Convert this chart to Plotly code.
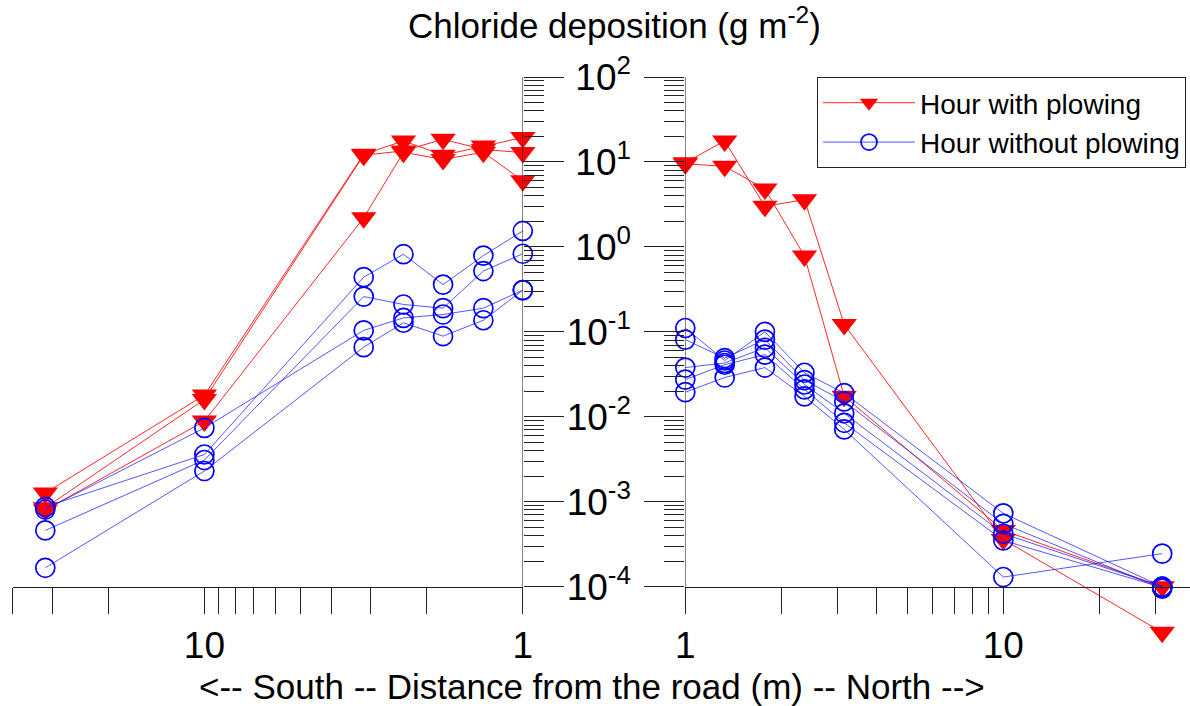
import math
import plotly.graph_objects as go

# ---------------- data ----------------
distance_m = [1, 1.33, 1.78, 2.37, 3.16, 10, 31.6]

# South side (left panel), hours with plowing
south_plow_a = [19.4, 15.4, 12.0, 17.7, 12.3, 0.018, 0.00127]
south_plow_b = [12.9, 14.0, 18.5, 13.5, 12.0, 0.016, 0.00085]
south_plow_c = [6.0, 13.0, 10.7, 13.0, 2.2, 0.0089, 0.00080]

# South side, hours without plowing
south_noplow_a = [1.54, 0.79, 0.36, 0.82, 0.44, 0.0036, 0.00087]
south_noplow_b = [0.83, 0.52, 0.19, 0.21, 0.26, 0.0031, 0.00046]
south_noplow_c = [0.31, 0.19, 0.16, 0.146, 0.104, 0.0074, 0.00081]
south_noplow_d = [0.31, 0.137, 0.089, 0.128, 0.066, 0.0023, 0.000167]

# North side (right panel), hours with plowing
north_plow_a = [9.8, 17.7, 3.0, 3.6, 0.122, 0.00036, 0.000029]
north_plow_b = [9.5, 8.9, 4.8, 0.78, 0.0174, 0.00046, 0.000100]

# North side, hours without plowing
north_noplow_a = [0.111, 0.046, 0.100, 0.033, 0.019, 0.00073, 0.000100]
north_noplow_b = [0.081, 0.049, 0.081, 0.027, 0.0152, 0.00055, 0.000095]
north_noplow_c = [0.038, 0.043, 0.065, 0.024, 0.011, 0.00042, 0.000100]
north_noplow_d = [0.0274, 0.041, 0.054, 0.021, 0.0085, 0.00035, 0.000098]
north_noplow_e = [0.0195, 0.029, 0.038, 0.0174, 0.0071, 0.00013, 0.000245]

south_plow = [south_plow_a, south_plow_b, south_plow_c]
south_noplow = [south_noplow_a, south_noplow_b, south_noplow_c, south_noplow_d]
north_plow = [north_plow_a, north_plow_b]
north_noplow = [north_noplow_a, north_noplow_b, north_noplow_c, north_noplow_d, north_noplow_e]

# ticks
x_major_vals = [1, 10]
x_major_text = ["1", "10"]
x_minor_vals = [2, 3, 4, 5, 6, 7, 8, 9, 20, 30, 40]
y_tickvals = [1e-4, 1e-3, 1e-2, 1e-1, 1, 10, 100]
y_ticktext = ["10<sup>-4</sup>", "10<sup>-3</sup>", "10<sup>-2</sup>", "10<sup>-1</sup>",
              "10<sup>0</sup>", "10<sup>1</sup>", "10<sup>2</sup>"]
y_minorvals = [m * 10 ** e for e in range(-4, 2) for m in range(2, 10)]
y_min, y_max = 1e-4, 100

# ---------------- styles ----------------
W, H = 1190, 706
FONT = "Arial, Liberation Sans, sans-serif"
RED = "#ff0000"
BLUE = "#0000ff"
AX = "#222222"

plow_marker = dict(symbol="triangle-down", size=22, color=RED, line=dict(width=0))
noplow_marker = dict(symbol="circle-open", size=19, color=BLUE, line=dict(width=1.7))
plow_line = dict(color="rgba(255,0,0,0.85)", width=1)
noplow_line = dict(color="rgba(30,30,255,0.75)", width=1)

fig = go.Figure()

first = True
for xa, ya, series in (("x", "y", south_plow), ("x2", "y2", north_plow)):
    for s in series:
        fig.add_trace(go.Scatter(x=distance_m, y=s, xaxis=xa, yaxis=ya, mode="lines+markers",
                                 marker=plow_marker, line=plow_line, cliponaxis=False,
                                 name="Hour with plowing", legendgroup="plow", showlegend=first))
        first = False
first = True
for xa, ya, series in (("x", "y", south_noplow), ("x2", "y2", north_noplow)):
    for s in series:
        fig.add_trace(go.Scatter(x=distance_m, y=s, xaxis=xa, yaxis=ya, mode="lines+markers",
                                 marker=noplow_marker, line=noplow_line, cliponaxis=False,
                                 name="Hour without plowing", legendgroup="noplow", showlegend=first))
        first = False

# pixel layout of the reference
x_left_px, x_mid_l_px, x_mid_r_px = 12.7, 522.8, 685.3
y_top_px, y_axis_px = 77.0, 586.7
px_per_decade = (y_axis_px - y_top_px) / 6.0
y_low_log = -4.6                       # room below 1e-4 for the off-scale point
y_dom_bottom_px = y_axis_px + (-4 - y_low_log) * px_per_decade

common_x = dict(type="log", tickvals=x_major_vals, ticktext=x_major_text, ticks="outside", ticklen=26,
                tickcolor=AX, tickwidth=1, showline=True, linecolor=AX, linewidth=1,
                minor=dict(ticks="outside", ticklen=26, tickvals=x_minor_vals, tickcolor=AX,
                           tickwidth=1, showgrid=False),
                showgrid=False, zeroline=False, tickfont=dict(size=37, color="black", family=FONT),
                automargin=False, anchor="free", position=(H - y_axis_px) / H)
common_y = dict(type="log", range=[y_low_log, 2], tickvals=y_tickvals, ticktext=y_ticktext,
                ticks="outside", ticklen=40, tickcolor=AX, tickwidth=1,
                minor=dict(ticks="outside", ticklen=20, tickvals=y_minorvals, tickcolor=AX,
                           tickwidth=1, showgrid=False),
                showline=False, showgrid=False, zeroline=False,
                tickfont=dict(size=37, color="black", family=FONT), automargin=False,
                domain=[(H - y_dom_bottom_px) / H, (H - y_top_px) / H])

fig.update_layout(
    width=W, height=H,
    margin=dict(l=0, r=0, t=0, b=0),
    paper_bgcolor="white", plot_bgcolor="rgba(0,0,0,0)",
    font=dict(family=FONT, color="black"),
    xaxis=dict(common_x, domain=[x_left_px / W, x_mid_l_px / W], range=[math.log10(40), 0]),
    xaxis2=dict(common_x, domain=[x_mid_r_px / W, 1.0], range=[0, (W - x_mid_r_px) / 318.0]),
    yaxis=dict(common_y, anchor="x", side="right", showticklabels=False),
    yaxis2=dict(common_y, anchor="x2", side="left", showticklabels=True, ticklabelstandoff=6),
    showlegend=True,
    legend=dict(x=817 / W, y=(H - 77) / H, xanchor="left", yanchor="top",
                bgcolor="white", bordercolor=AX, borderwidth=1,
                font=dict(size=28, family=FONT, color="black"), itemwidth=92,
                traceorder="normal"),
    shapes=[
        # vertical axis lines at distance 1 m, from 1e-4 to 1e2
        dict(type="line", xref="x", yref="y", x0=1, x1=1, y0=y_min, y1=y_max,
             line=dict(color=AX, width=1), layer="above"),
        dict(type="line", xref="x2", yref="y2", x0=1, x1=1, y0=y_min, y1=y_max,
             line=dict(color=AX, width=1), layer="above"),
    ],
    annotations=[
        dict(text="Chloride deposition (g m<sup>-2</sup>)", x=614 / W, y=(H - 23) / H,
             xref="paper", yref="paper", showarrow=False, xanchor="center", yanchor="middle",
             font=dict(size=35, family=FONT, color="black")),
        dict(text="<-- South -- Distance from the road (m) -- North -->", x=592 / W, y=(H - 686) / H,
             xref="paper", yref="paper", showarrow=False, xanchor="center", yanchor="middle",
             font=dict(size=35, family=FONT, color="black")),
    ],
)

fig.write_html("out.html", config={"displayModeBar": False},
               post_script="document.body.style.margin='0';")
